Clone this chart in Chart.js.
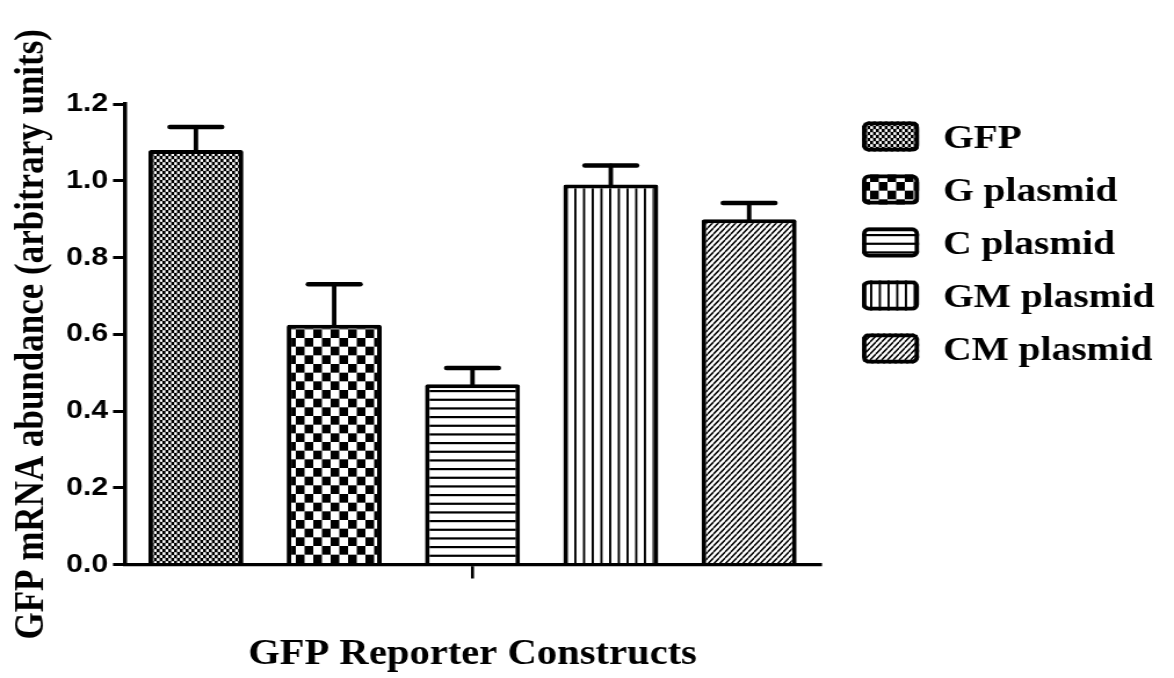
<!DOCTYPE html>
<html>
<head>
<meta charset="utf-8">
<script src="https://cdn.jsdelivr.net/npm/chart.js@4.4.1/dist/chart.umd.min.js"></script>
<style>
  html, body { margin: 0; padding: 0; background: #fff; }
</style>
</head>
<body>
<!-- the drawing surface is widened on screen so the lettering gets its broad look -->
<canvas id="chart" width="1012" height="678" style="display:block;width:1174px;height:678px;"></canvas>
<script>
// ---- data ----
const constructs = ['GFP', 'G plasmid', 'C plasmid', 'GM plasmid', 'CM plasmid'];
const abundance = [1.08, 0.625, 0.47, 0.99, 0.90];   // mean relative GFP mRNA
const sem = [0.06, 0.105, 0.042, 0.05, 0.042];        // upper error bar
const groupLabels = [''];
const yTickValues = [0.0, 0.2, 0.4, 0.6, 0.8, 1.0, 1.2];
const xTitle = 'GFP Reporter Constructs';
const yTitle = 'GFP mRNA abundance (arbitrary units)';

// ---- layout helpers ----
const CANVAS_W = 1012;
const STRETCH = 1174 / CANVAS_W;          // on-screen horizontal widening
const px = v => v / STRETCH;              // screen x distance -> canvas x distance

// ---- fill patterns ----
function tile(w, h, paint) {
  const c = document.createElement('canvas');
  c.width = w; c.height = h;
  const g = c.getContext('2d');
  g.fillStyle = '#fff';
  g.fillRect(0, 0, w, h);
  g.fillStyle = '#000';
  g.strokeStyle = '#000';
  paint(g, w, h);
  return g.createPattern(c, 'repeat');
}

const patterns = [
  // fine dotted checker
  tile(5, 6, g => {
    g.fillRect(0, 0, 5, 6);
    g.fillStyle = '#fff';
    g.fillRect(0.1, 0.2, 2.5, 2.7);
    g.fillRect(2.6, 3.2, 2.5, 2.7);
  }),
  // coarse checkerboard
  tile(15, 52, g => {
    const cw = 7.5, ch = 52 / 6;
    for (let r = 0; r < 6; r++) {
      for (let c = 0; c < 2; c++) {
        if ((r + c) % 2 === 0) g.fillRect(c * cw, r * ch, cw, ch);
      }
    }
  }),
  // horizontal lines
  tile(4, 26, g => {
    for (let k = 0; k < 3; k++) g.fillRect(0, k * 26 / 3, 4, 2.2);
  }),
  // vertical lines
  tile(15, 4, g => {
    g.fillRect(0, 0, 1.9, 4);
    g.fillRect(7.5, 0, 1.9, 4);
  }),
  // diagonal hatch
  tile(5, 6, g => {
    g.lineWidth = 1.5;
    g.beginPath();
    for (let k = -1; k <= 1; k++) {
      g.moveTo(k * 5, 6);
      g.lineTo(k * 5 + 5, 0);
    }
    g.stroke();
  })
];

// ---- error bars (upper only) ----
const errorBars = {
  id: 'errorBars',
  afterDatasetsDraw(chart) {
    const { ctx } = chart;
    const y = chart.scales.y;
    const capHalf = px(26);
    ctx.save();
    ctx.strokeStyle = '#000';
    ctx.lineCap = 'round';
    chart.data.datasets.forEach((ds, i) => {
      const bar = chart.getDatasetMeta(i).data[0];
      const tip = y.getPixelForValue(abundance[i] + sem[i]);
      ctx.lineWidth = px(4.5);
      ctx.beginPath();
      ctx.moveTo(bar.x, bar.y);
      ctx.lineTo(bar.x, tip);
      ctx.stroke();
      ctx.lineWidth = 4.5;
      ctx.beginPath();
      ctx.moveTo(bar.x - capHalf, tip);
      ctx.lineTo(bar.x + capHalf, tip);
      ctx.stroke();
    });
    ctx.restore();
  }
};

// ---- legend at the right ----
const sideLegend = {
  id: 'sideLegend',
  afterDraw(chart) {
    const { ctx } = chart;
    const boxX = px(862), boxW = px(57), boxH = 30;
    const textX = px(943);
    const firstY = 136.5, step = 53;
    ctx.save();
    ctx.font = 'bold 34px "Liberation Serif", "Times New Roman", serif';
    ctx.textAlign = 'left';
    ctx.textBaseline = 'alphabetic';
    chart.data.datasets.forEach((ds, i) => {
      const cy = firstY + i * step;
      ctx.beginPath();
      ctx.roundRect(boxX, cy - boxH / 2, boxW, boxH, 5);
      ctx.fillStyle = ds.backgroundColor;
      ctx.fill();
      ctx.lineWidth = 3.8;
      ctx.strokeStyle = '#000';
      ctx.beginPath();
      ctx.roundRect(boxX + 1.9, cy - boxH / 2 + 1.9, boxW - 3.8, boxH - 3.8, 4);
      ctx.stroke();
      ctx.fillStyle = '#000';
      ctx.fillText(ds.label, textX, cy + 11);
    });
    ctx.restore();
  }
};

const chartTop = 104;      // y of the 1.2 tick
const chartBottom = 564.5; // y of the 0.0 baseline

new Chart(document.getElementById('chart'), {
  type: 'bar',
  data: {
    labels: groupLabels,
    datasets: constructs.map((name, i) => ({
      label: name,
      data: [abundance[i]],
      backgroundColor: patterns[i],
      borderColor: '#000',
      borderWidth: 4,
      borderSkipped: 'start',
      borderRadius: 2,
      barPercentage: 0.687,
      categoryPercentage: 0.995
    }))
  },
  options: {
    responsive: false,
    animation: false,
    devicePixelRatio: 1,
    layout: { padding: { top: chartTop, right: CANVAS_W - px(820), bottom: 0, left: 0 } },
    plugins: {
      legend: { display: false },
      tooltip: { enabled: false }
    },
    scales: {
      x: {
        z: 1,
        ticks: { display: false },
        grid: {
          offset: false,
          drawOnChartArea: false,
          drawTicks: true,
          tickLength: 14,
          lineWidth: 2.6,
          color: '#000'
        },
        border: { display: true, width: 3.2, color: '#000' },
        title: {
          display: true,
          text: xTitle,
          color: '#000',
          font: { family: '"Liberation Serif", "Times New Roman", serif', weight: 'bold', size: 35 },
          padding: { top: 0, bottom: 2 }
        },
        afterFit: s => { s.height = 678 - chartBottom; }
      },
      y: {
        min: 0,
        max: 1.2,
        afterBuildTicks: s => { s.ticks = yTickValues.map(v => ({ value: v })); },
        ticks: {
          color: '#000',
          padding: px(5),
          font: { family: '"Liberation Sans", Arial, sans-serif', weight: 'bold', size: 26 },
          callback: v => Number(v).toFixed(1)
        },
        grid: {
          drawOnChartArea: false,
          drawTicks: true,
          tickLength: px(12),
          lineWidth: 3,
          color: '#000'
        },
        border: { display: true, width: 3.5, color: '#000' },
        title: {
          display: true,
          text: yTitle,
          color: '#000',
          font: { family: '"Liberation Serif", "Times New Roman", serif', weight: 'bold', size: 35 },
          padding: { top: 7, bottom: 0 }
        },
        afterFit: s => { s.width = px(125); }
      }
    }
  },
  plugins: [errorBars, sideLegend]
});
</script>
</body>
</html>
